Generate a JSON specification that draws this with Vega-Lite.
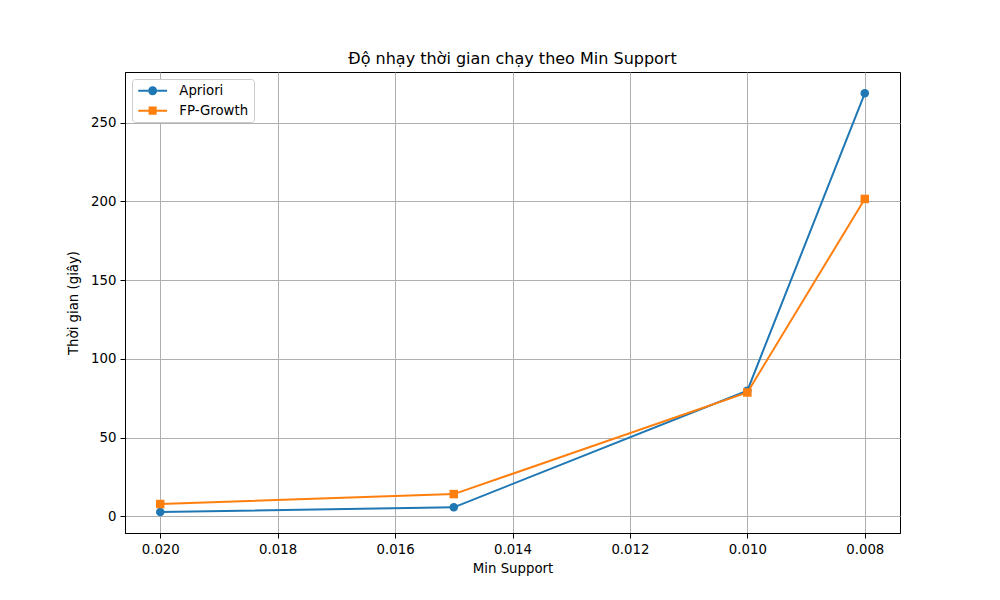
{
  "$schema": "https://vega.github.io/schema/vega-lite/v6.json",
  "width": 775,
  "height": 461,
  "autosize": {"type": "none"},
  "padding": {"left": 125, "top": 72, "right": 100, "bottom": 67},
  "background": "white",
  "config": {
    "font": "DejaVu Sans",
    "view": {"stroke": "black", "strokeWidth": 1},
    "axis": {
      "labelFont": "DejaVu Sans", "labelFontSize": 13.3, "labelColor": "black",
      "titleFont": "DejaVu Sans", "titleFontSize": 13.3, "titleFontWeight": "normal", "titleColor": "black",
      "gridColor": "#b0b0b0", "gridWidth": 1, "gridOpacity": 1,
      "tickColor": "black", "tickSize": 5, "tickWidth": 1,
      "domainColor": "black", "domainWidth": 1, "labelPadding": 4
    },
    "title": {"font": "DejaVu Sans", "fontSize": 16, "fontWeight": "normal", "color": "black"}
  },
  "title": {"text": "Độ nhạy thời gian chạy theo Min Support", "offset": 5},
  "data": {
    "values": [
      {"support": 0.020, "time": 2.7, "algo": "Apriori"},
      {"support": 0.015, "time": 5.7, "algo": "Apriori"},
      {"support": 0.010, "time": 79.8, "algo": "Apriori"},
      {"support": 0.008, "time": 268.6, "algo": "Apriori"},
      {"support": 0.020, "time": 7.8, "algo": "FP-Growth"},
      {"support": 0.015, "time": 14.1, "algo": "FP-Growth"},
      {"support": 0.010, "time": 78.6, "algo": "FP-Growth"},
      {"support": 0.008, "time": 201.5, "algo": "FP-Growth"}
    ]
  },
  "encoding": {
    "x": {
      "field": "support", "type": "quantitative",
      "scale": {"domain": [0.0206, 0.0074], "nice": false, "zero": false},
      "axis": {"title": "Min Support", "values": [0.020, 0.018, 0.016, 0.014, 0.012, 0.010, 0.008], "format": ".3f", "titlePadding": 6}
    },
    "y": {
      "field": "time", "type": "quantitative",
      "scale": {"domain": [-10.6, 282.1], "nice": false, "zero": false},
      "axis": {"title": "Thời gian (giây)", "values": [0, 50, 100, 150, 200, 250], "titlePadding": 10}
    },
    "color": {
      "field": "algo", "type": "nominal",
      "scale": {"domain": ["Apriori", "FP-Growth"], "range": ["#1f77b4", "#ff7f0e"]},
      "legend": {
        "title": null, "orient": "top-left", "offset": 7,
        "fillColor": "white", "strokeColor": "#cccccc", "cornerRadius": 3,
        "padding": 5, "labelFontSize": 13.3, "labelFont": "DejaVu Sans", "labelColor": "black",
        "symbolSize": 81, "rowPadding": 6, "symbolStrokeWidth": 0,
        "symbolOffset": 9, "labelOffset": 20, "labelLimit": 200
      }
    }
  },
  "layer": [
    {
      "transform": [{"filter": "datum.algo === 'Apriori'"}],
      "mark": {"type": "line", "strokeWidth": 2}
    },
    {
      "transform": [{"filter": "datum.algo === 'Apriori'"}],
      "mark": {"type": "point", "filled": true, "size": 72, "opacity": 1, "shape": "circle"}
    },
    {
      "transform": [{"filter": "datum.algo === 'FP-Growth'"}],
      "mark": {"type": "line", "strokeWidth": 2}
    },
    {
      "transform": [{"filter": "datum.algo === 'FP-Growth'"}],
      "mark": {"type": "point", "filled": true, "size": 72, "opacity": 1, "shape": "square"}
    },
    {
      "transform": [{"filter": "false"}],
      "mark": {"type": "point", "filled": true, "size": 81, "opacity": 1},
      "encoding": {
        "shape": {
          "field": "algo", "type": "nominal",
          "scale": {
            "domain": ["Apriori", "FP-Growth"],
            "range": [
              "M-3.2,-0.22H-1V0.22H-3.2Z M1,-0.22H3.2V0.22H1Z M-1,0A1,1 0 1,0 1,0A1,1 0 1,0 -1,0Z",
              "M-3.2,-0.22H-0.9V0.22H-3.2Z M0.9,-0.22H3.2V0.22H0.9Z M-0.9,-0.9H0.9V0.9H-0.9Z"
            ]
          }
        }
      }
    }
  ]
}
